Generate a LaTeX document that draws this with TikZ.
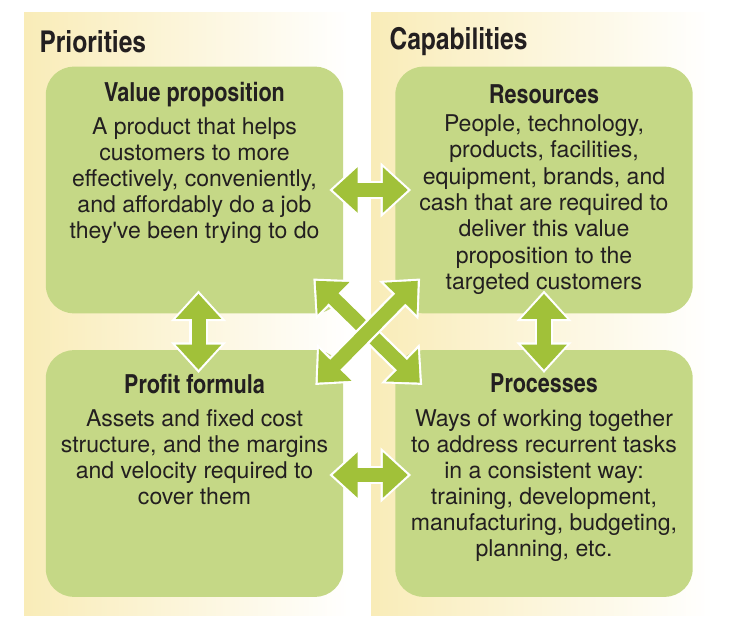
\documentclass[tikz,border=0pt]{standalone}
\usepackage{fontspec}
\setmainfont{texgyreheros}[Extension=.otf,UprightFont=*-regular,BoldFont=*-bold]
\newfontfamily\condfont{texgyreheroscn}[Extension=.otf,UprightFont=*-regular,BoldFont=*-bold]
\usetikzlibrary{arrows.meta,calc}

\definecolor{panelyel}{RGB}{249,236,184}
\definecolor{boxgreen}{RGB}{197,216,134}
\definecolor{arrowgreen}{RGB}{161,193,57}
\definecolor{inkgray}{RGB}{35,31,32}

\tikzset{every picture/.style={line width=0.75pt}}
\tikzset{
  panel/.style={left color=panelyel, right color=white, draw=none},
  box/.style={fill=boxgreen, rounded corners=21pt, minimum width=223pt, minimum height=185pt, inner sep=0pt},
  heading/.style={anchor=west, inner sep=0pt, text=inkgray, font=\condfont\bfseries\fontsize{22.5pt}{26pt}\selectfont},
  boxtitle/.style={inner sep=0pt, text=inkgray, font=\condfont\bfseries\fontsize{19.7pt}{23pt}\selectfont},
  boxtext/.style={anchor=north, inner sep=0pt, align=center, text=inkgray, font=\fontsize{17.3pt}{19.5pt}\selectfont},
  fatarrow/.style={draw=arrowgreen, line width=10.5pt, {Triangle[width=33pt,length=18.75pt]}-{Triangle[width=33pt,length=18.75pt]},
    preaction={draw=white, line width=14pt, shorten <=-2.5pt, shorten >=-2.5pt, {Triangle[width=40pt,length=23pt]}-{Triangle[width=40pt,length=23pt]}}}
}

\begin{document}
\begin{tikzpicture}[x=0.75pt,y=0.75pt,yscale=-1,xscale=1]
  \path[use as bounding box] (0,0) rectangle (729,631);

  %Panels
  \fill[panel] (24,13) rectangle (352,615);
  \fill[panel] (371,13) rectangle (712,615);
  \node[heading] (prio) at (39,42) {Priorities};
  \node[heading] (capa) at (389,42) {Capabilities};

  %Boxes
  \node[box] (vp) at (194.5,190) {};
  \node[box] (res) at (544,190) {};
  \node[box] (pf) at (194.5,473.5) {};
  \node[box] (proc) at (544,473.5) {};

  %Box texts
  \node[boxtitle] (vptitle) at ($(vp.north)+(0,28)$) {Value proposition};
  \node[boxtext] (vptext) at ($(vp.north)+(0,51)$) {A product that helps\\customers to more\\effectively, conveniently,\\and affordably do a job\\they\textquotesingle ve been trying to do};
  \node[boxtitle] (restitle) at ($(res.north)+(0,28)$) {Resources};
  \node[boxtext, font=\fontsize{17.3pt}{19.75pt}\selectfont] (restext) at ($(res.north)+(0,48)$) {People, technology,\\products, facilities,\\equipment, brands, and\\cash that are required to\\deliver this value\\proposition to the\\targeted customers};
  \node[boxtitle] (pftitle) at ($(pf.north)+(0,34)$) {Profit formula};
  \node[boxtext] (pftext) at ($(pf.north)+(0,59)$) {Assets and fixed cost\\structure, and the margins\\and velocity required to\\cover them};
  \node[boxtitle] (proctitle) at ($(proc.north)+(0,34)$) {Processes};
  \node[boxtext] (proctext) at ($(proc.north)+(0,59)$) {Ways of working together\\to address recurrent tasks\\in a consistent way:\\training, development,\\manufacturing, budgeting,\\planning, etc.};

  %Arrows
  \draw[fatarrow] ($(vp.east)+(-11,0)$) -- ($(res.west)+(13,0)$);
  \draw[fatarrow] ($(pf.east)+(-11,1.5)$) -- ($(proc.west)+(13,1.5)$);
  \draw[fatarrow] ($(vp.south)+(4,-20)$) -- ($(pf.north)+(4,20)$);
  \draw[fatarrow] ($(res.south)+(0,-20)$) -- ($(proc.north)+(0,20)$);
  \draw[fatarrow] ($(vp.south east)+(-28,-33)$) -- ($(proc.north west)+(25,33)$);
  \draw[fatarrow] ($(res.south west)+(23,-33)$) -- ($(pf.north east)+(-26,33)$);
\end{tikzpicture}
\end{document}
